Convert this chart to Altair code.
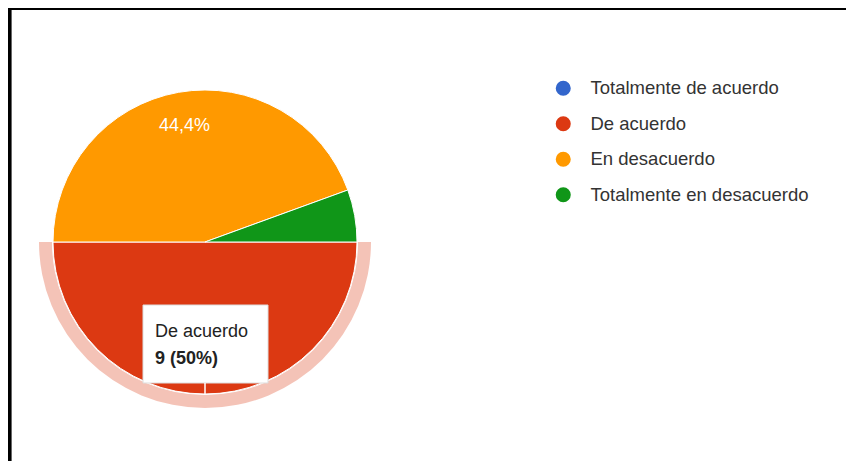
import math
import altair as alt
import pandas as pd

# ---- data ----
categories = ["Totalmente de acuerdo", "De acuerdo", "En desacuerdo", "Totalmente en desacuerdo"]
counts = [0, 9, 8, 1]
slice_labels = ["", "", "44,4%", ""]   # the 50% label sits under the tooltip in the reference
colors = ["#3366cc", "#dc3912", "#ff9900", "#109618"]
hovered = "De acuerdo"

total = sum(counts)
df = pd.DataFrame({
    "cat": categories,
    "value": counts,
    "idx": list(range(len(categories))),
    "label": slice_labels,
    "tip": [f"{v} ({round(100 * v / total)}%)" for v in counts],
})

FONT = "Liberation Sans"
CX, CY, R = 197, 234, 152

theta = alt.Theta("value:Q", stack=True,
                  scale=alt.Scale(domain=[0, total], range=[math.pi / 2, 5 * math.pi / 2], nice=False, zero=True))
color_scale = alt.Scale(domain=categories, range=colors)
legend = alt.Legend(orient="none", legendX=546, legendY=71, title=None,
                    labelFontSize=18.5, labelFont=FONT, labelColor="#333333",
                    symbolType="circle", symbolSize=227, symbolStrokeWidth=0,
                    rowPadding=16.5, labelOffset=18, padding=0, labelLimit=400)
color = alt.Color("cat:N", scale=color_scale, sort=categories, legend=legend)

base = alt.Chart(df)

halo = base.mark_arc(innerRadius=R + 1, outerRadius=R + 14).encode(
    theta=theta,
    order=alt.Order("idx:Q"),
    color=color,
    fillOpacity=alt.condition(alt.datum.cat == hovered, alt.value(0.3), alt.value(0)),
    x=alt.value(CX), y=alt.value(CY),
)

pie = base.mark_arc(outerRadius=R, stroke="white", strokeWidth=1).encode(
    theta=theta,
    order=alt.Order("idx:Q"),
    color=color,
    x=alt.value(CX), y=alt.value(CY),
)

labels = base.mark_text(radius=118, color="white", fontSize=18, font=FONT).encode(
    theta=theta,
    order=alt.Order("idx:Q"),
    text="label:N",
    x=alt.value(CX), y=alt.value(CY),
)

tipdf = base.transform_filter(alt.datum.cat == hovered)
tip_box = tipdf.mark_rect(fill="white", stroke="#dddddd", strokeWidth=1).encode(
    x=alt.value(135), x2=alt.value(260), y=alt.value(297), y2=alt.value(375)
)
tip_line = tipdf.mark_rule(color="white", strokeWidth=1.5).encode(
    x=alt.value(CX), y=alt.value(375), y2=alt.value(CY + R)
)
tip_name = tipdf.mark_text(align="left", baseline="alphabetic", fontSize=18, font=FONT, color="#222222").encode(
    x=alt.value(147), y=alt.value(329), text="cat:N"
)
tip_val = tipdf.mark_text(align="left", baseline="alphabetic", fontSize=18, font=FONT, fontWeight="bold",
                          color="#222222").encode(
    x=alt.value(147), y=alt.value(356), text="tip:N"
)

frame_left = base.mark_rule(color="black", strokeWidth=3).encode(
    x=alt.value(1.7), y=alt.value(0), y2=alt.value(453)
)
frame_top = base.mark_rule(color="black", strokeWidth=3).encode(
    x=alt.value(0), x2=alt.value(838), y=alt.value(0.5)
)

chart = alt.layer(halo, pie, labels, tip_box, tip_line, tip_name, tip_val, frame_left, frame_top).properties(
    width=838, height=453, padding=0, autosize=alt.AutoSizeParams(type="none")
).configure_view(strokeWidth=0)

chart.save("out.html", embed_options={"renderer": "svg", "actions": False})
